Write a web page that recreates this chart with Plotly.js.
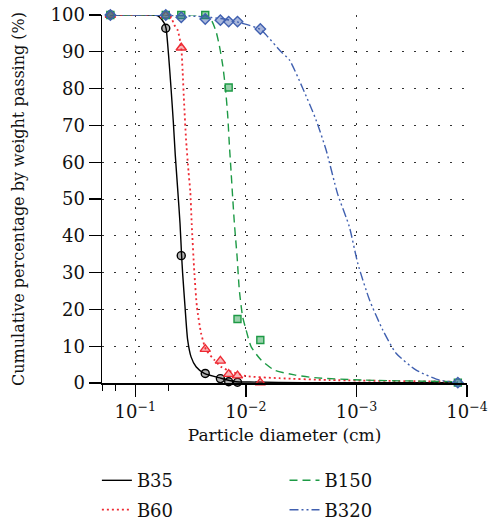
<!DOCTYPE html>
<html><head><meta charset="utf-8">
<script src="https://cdn.plot.ly/plotly-3.0.1.min.js"></script>
<style>html,body{margin:0;padding:0;background:#fff}#chart{width:495px;height:526px}</style>
</head><body><div id="chart"></div>
<script>
// Series names
const seriesNames = ["B35", "B60", "B150", "B320"];

// Measured points (particle diameter in cm, cumulative % passing)
const b35X = [0.168, 0.053, 0.0384, 0.0233, 0.017, 0.0143, 0.0119];
const b35Y = [100, 96.4, 34.6, 2.6, 1.2, 0.35, 0.2];
const b60X = [0.168, 0.053, 0.0384, 0.0233, 0.017, 0.0143, 0.0119, 0.0074];
const b60Y = [100, 99.8, 91.1, 9.2, 6.0, 2.4, 2.0, 0.1];
const b150X = [0.168, 0.053, 0.0384, 0.0233, 0.0143, 0.0119, 0.0074, 0.000121];
const b150Y = [100, 100, 100, 100, 80.3, 17.4, 11.7, 0.1];
const b320X = [0.168, 0.053, 0.0384, 0.0233, 0.017, 0.0143, 0.0119, 0.0074, 0.000121];
const b320Y = [100, 100, 99.4, 98.9, 98.6, 98.2, 98.2, 96.2, 0.1];

// Fitted curves
const b35FitX = [0.168, 0.0646, 0.0607, 0.0547, 0.0527, 0.0500, 0.0475, 0.0453, 0.0435, 0.0414, 0.0394, 0.0381, 0.0373, 0.0355, 0.0336, 0.0313, 0.0282, 0.0238, 0.0168, 0.0123, 0.00929, 0.00300, 0.000121];
const b35FitY = [100, 99.9, 99.5, 97.8, 96.4, 89.1, 80.1, 71.0, 62.0, 52.9, 43.4, 34.6, 29.8, 20.7, 11.7, 7.1, 4.4, 2.6, 1.3, 0.35, 0.27, 0.1, 0.05];
const b60FitX = [0.168, 0.060, 0.0492, 0.0475, 0.0444, 0.0414, 0.0384, 0.0373, 0.0361, 0.0348, 0.0330, 0.0318, 0.0309, 0.0292, 0.0277, 0.0254, 0.0229, 0.0193, 0.0168, 0.0136, 0.00995, 0.00498, 0.00175, 0.000121];
const b60FitY = [100, 100, 99.9, 99.5, 97.3, 95.9, 91.1, 84.6, 75.5, 66.5, 57.4, 52.0, 43.4, 29.8, 20.7, 13.5, 9.0, 6.3, 4.4, 3.1, 1.9, 1.3, 0.8, 0.35];
const b150FitX = [0.168, 0.0264, 0.0229, 0.0205, 0.0186, 0.0174, 0.0162, 0.0153, 0.0146, 0.0141, 0.0136, 0.0132, 0.0127, 0.0120, 0.01146, 0.01069, 0.00995, 0.00897, 0.00728, 0.00552, 0.00364, 0.00240, 0.000877, 0.000121];
const b150FitY = [100, 100, 99.8, 98.6, 95.5, 91.8, 86.4, 80.1, 72.8, 64.7, 57.4, 51.1, 43.4, 34.3, 25.3, 18.0, 14.4, 9.9, 6.25, 3.5, 2.2, 1.45, 0.8, 0.35];
const b320FitX = [0.168, 0.053, 0.0264, 0.0157, 0.01033, 0.0074, 0.00656, 0.0048, 0.00404, 0.00306, 0.00232, 0.00188, 0.00148, 0.00116, 0.000972, 0.000762, 0.000578, 0.000438, 0.000288, 0.000177, 0.000121];
const b320FitY = [100, 99.9, 99.6, 98.9, 97.6, 96.1, 94.6, 90.0, 87.8, 80.1, 71.5, 63.3, 51.4, 42.5, 32.5, 22.6, 14.4, 8.1, 3.5, 0.8, 0.1];

// Axis ticks
const xTickVals = [0.1, 0.01, 0.001, 0.0001];
const xTickText = ["10<sup>−1</sup>", "10<sup>−2</sup>", "10<sup>−3</sup>", "10<sup>−4</sup>"];

const colors = ["#000000", "#ee2a33", "#1d9a45", "#4060b0"];
const fills = ["rgba(0,0,0,0.3)", "rgba(238,42,51,0.35)", "rgba(29,154,69,0.45)", "rgba(64,96,176,0.45)"];
const dashes = ["solid", "2px,3px", "8px,5px", "9px,3px,2px,3px,2px,3px"];
const widths = [1.4, 1.8, 1.4, 1.4];
const symbols = ["circle", "triangle-up", "square", "diamond"];
const sizes = [8, 9, 7, 8];
const legendIds = ["legend", "legend", "legend2", "legend2"];

const fitX = [b35FitX, b60FitX, b150FitX, b320FitX];
const fitY = [b35FitY, b60FitY, b150FitY, b320FitY];
const ptX = [b35X, b60X, b150X, b320X];
const ptY = [b35Y, b60Y, b150Y, b320Y];

const traces = [];
for (let i = 0; i < 4; i++) {
  traces.push({
    x: fitX[i], y: fitY[i], type: "scatter", mode: "lines", name: seriesNames[i],
    line: {color: colors[i], width: widths[i], dash: dashes[i], shape: "spline", smoothing: 0.6},
    legend: legendIds[i], legendgroup: "g" + i, cliponaxis: false, hoverinfo: "skip"
  });
}
for (let i = 0; i < 4; i++) {
  traces.push({
    x: ptX[i], y: ptY[i], type: "scatter", mode: "markers", name: seriesNames[i], showlegend: false,
    marker: {symbol: symbols[i], size: sizes[i], color: fills[i], line: {color: colors[i], width: 1.4}},
    cliponaxis: false
  });
}

const FAM = "DejaVu Serif";
const layout = {
  width: 495, height: 526,
  margin: {l: 102, r: 28, t: 15, b: 143, autoexpand: false},
  paper_bgcolor: "#fff", plot_bgcolor: "#fff",
  font: {family: FAM, size: 17, color: "#111"},
  showlegend: true,
  xaxis: {
    type: "log", range: [Math.log10(0.2), -4],
    tickvals: xTickVals, ticktext: xTickText,
    ticks: "outside", ticklen: 12, tickwidth: 1.3, tickcolor: "#000",
    minor: {ticks: "outside", ticklen: 6, tickwidth: 1, tickcolor: "#000", showgrid: false},
    showline: true, linecolor: "#000", linewidth: 1.5,
    showgrid: true, gridcolor: "#333", gridwidth: 1, griddash: "2px,10px",
    zeroline: false,
    tickfont: {family: FAM, size: 18},
    title: {text: "Particle diameter (cm)", font: {family: FAM, size: 17}, standoff: 8}
  },
  yaxis: {
    range: [0, 100], dtick: 10,
    ticks: "outside", ticklen: 12, tickwidth: 1.3, tickcolor: "#000",
    showline: true, linecolor: "#000", linewidth: 1.5,
    showgrid: true, gridcolor: "#333", gridwidth: 1, griddash: "2px,10px",
    zeroline: false,
    tickfont: {family: FAM, size: 18},
    title: {text: "Cumulative percentage by weight passing (%)", font: {family: FAM, size: 16}, standoff: 22}
  },
  legend: {x: -0.014, xanchor: "left", y: -0.215, yanchor: "top", font: {family: FAM, size: 18}, bgcolor: "rgba(0,0,0,0)", tracegroupgap: 3},
  legend2: {x: 0.5, xanchor: "left", y: -0.215, yanchor: "top", font: {family: FAM, size: 18}, bgcolor: "rgba(0,0,0,0)", tracegroupgap: 3}
};

Plotly.newPlot("chart", traces, layout, {staticPlot: true});
</script></body></html>
